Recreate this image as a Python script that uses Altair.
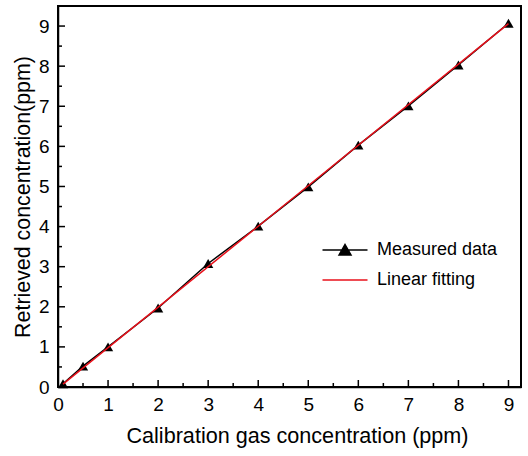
import altair as alt
import pandas as pd

# ---- data ----
meas_x = [0.1, 0.5, 1, 2, 3, 4, 5, 6, 7, 8, 9]
meas_y = [0.08, 0.52, 1.0, 1.97, 3.08, 4.01, 4.99, 6.03, 7.01, 8.03, 9.07]
fit_x = [0.1, 9.0]
fit_y = [0.07, 9.06]
x_major = [0, 1, 2, 3, 4, 5, 6, 7, 8, 9]
x_minor = [0.5, 1.5, 2.5, 3.5, 4.5, 5.5, 6.5, 7.5, 8.5]
y_major = [0, 1, 2, 3, 4, 5, 6, 7, 8, 9]
y_minor = [0.5, 1.5, 2.5, 3.5, 4.5, 5.5, 6.5, 7.5, 8.5]
series = ["Measured data", "Linear fitting"]
colors = ["#000000", "#e8101a"]

W, H = 463, 381
FONT = "Liberation Sans"

meas = pd.DataFrame({"x": meas_x, "y": meas_y})
fit = pd.DataFrame({"x": fit_x, "y": fit_y})
xs = alt.Scale(domain=[0, 9.25], nice=False, zero=False)
ys = alt.Scale(domain=[0, 9.5], nice=False, zero=False)

x_axis = alt.Axis(values=x_major, format="d", ticks=False, grid=False,
                  domainColor="black", domainWidth=1.5, labelFont=FONT,
                  labelFontSize=19, labelColor="black", labelPadding=8,
                  title="Calibration gas concentration (ppm)", titleFont=FONT,
                  titleFontSize=21.6, titleFontWeight="normal", titleColor="black",
                  titlePadding=11, titleX=239, labelFlush=False)
y_axis = alt.Axis(values=y_major, format="d", ticks=False, grid=False,
                  domainColor="black", domainWidth=1.5, labelFont=FONT,
                  labelFontSize=19, labelColor="black", labelPadding=9,
                  title="Retrieved concentration(ppm)", titleFont=FONT,
                  titleFontSize=21.4, titleFontWeight="normal", titleColor="black",
                  titlePadding=5, labelFlush=False)


def X(field):
    return alt.X(field, scale=xs, axis=x_axis)


def Y(field):
    return alt.Y(field, scale=ys, axis=y_axis)


line_meas = alt.Chart(meas).mark_line(color="black", strokeWidth=1.5).encode(
    x=X("x:Q"), y=Y("y:Q"))
pts = alt.Chart(meas).mark_point(shape="triangle-up", filled=True, color="black",
                                 size=105, opacity=1).encode(x=X("x:Q"), y=Y("y:Q"))
line_fit = alt.Chart(fit).mark_line(color=colors[1], strokeWidth=1.5).encode(
    x=X("x:Q"), y=Y("y:Q"))


# inward ticks
def xticks(vals, length):
    return alt.Chart(pd.DataFrame({"x": vals})).mark_rule(color="black", strokeWidth=1.5).encode(
        x=X("x:Q"), y=alt.value(H), y2=alt.value(H - length))


def yticks(vals, length):
    return alt.Chart(pd.DataFrame({"y": vals})).mark_rule(color="black", strokeWidth=1.5).encode(
        y=Y("y:Q"), x=alt.value(0), x2=alt.value(length))


# legend (symbol size 400 -> 10 px per path unit)
tri_line = "M-2.25,0H2.25M-0.6,0.5L0,-0.55L0.6,0.5Z"
plain_line = "M-2.25,0H2.25"
leg_df = pd.DataFrame({"s": series})
legend = alt.Legend(title=None, orient="none", legendX=276, legendY=233,
                    labelFont=FONT, labelFontSize=18, labelColor="black",
                    symbolSize=400, symbolStrokeWidth=1.5, symbolOpacity=1,
                    labelOffset=21, rowPadding=10, padding=0)
sscale = alt.Scale(domain=series, range=colors)
leg = alt.Chart(leg_df).mark_point(filled=True, opacity=0, strokeWidth=1.5).encode(
    x=alt.value(0), y=alt.value(0),
    shape=alt.Shape("s:N", scale=alt.Scale(domain=series, range=[tri_line, plain_line]),
                    legend=legend, sort=series),
    color=alt.Color("s:N", scale=sscale, legend=legend, sort=series),
    stroke=alt.Stroke("s:N", scale=sscale, legend=legend, sort=series),
)

chart = alt.layer(
    line_meas, pts, line_fit,
    xticks(x_major, 7), xticks(x_minor, 4), yticks(y_major, 7), yticks(y_minor, 4),
    leg,
).properties(
    width=W, height=H,
    autosize=alt.AutoSizeParams(type="none"),
    padding={"left": 58, "top": 6, "right": 7, "bottom": 69},
    background="white",
).configure_view(stroke="black", strokeWidth=2)

chart.save("out.html", embed_options={"renderer": "svg", "actions": False})
